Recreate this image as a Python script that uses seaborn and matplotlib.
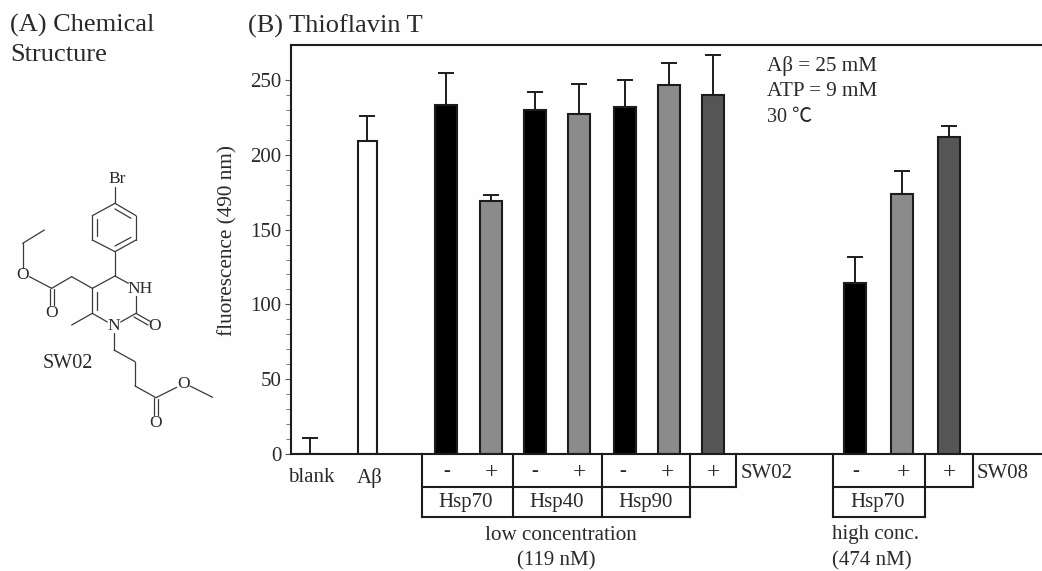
import matplotlib
matplotlib.use("Agg")
import matplotlib.pyplot as plt
import seaborn as sns
import pandas as pd

# ---- data ----
bar_names = ["blank", "Abeta", "Hsp70-", "Hsp70+", "Hsp40-", "Hsp40+", "Hsp90-", "Hsp90+", "SW02+",
             "hi70-", "hi70+", "SW08+"]
bar_pos = [310, 367, 446, 491, 535, 579, 624.5, 668.5, 713, 855, 902, 949]
bar_values = [0, 209.5, 233, 169, 230, 227, 232, 246.5, 240, 114, 174, 212]
bar_tops = [10.5, 226, 255, 173, 242, 247.5, 250, 261.5, 266.5, 132, 189, 219]
bar_kind = ["none", "open", "minus", "plus", "minus", "plus", "minus", "plus", "sw",
            "minus", "plus", "sw"]
kind_colors = {"none": "#ffffff", "open": "#ffffff", "minus": "#000000", "plus": "#8b8b8b", "sw": "#555555"}
yticks_major = [0, 50, 100, 150, 200, 250]
yticks_minor = [10, 20, 30, 40, 60, 70, 80, 90, 110, 120, 130, 140, 160, 170, 180, 190, 210, 220, 230, 240]

W, H = 1042, 571
SERIF = ["Liberation Serif", "Noto Sans CJK SC", "DejaVu Sans"]
INK = "#2a2a2a"
LINE = "#1c1c1c"

sns.set_theme(style="ticks")
plt.rcParams["font.family"] = SERIF

fig = plt.figure(figsize=(W / 100, H / 100), dpi=100, facecolor="#fefefe")
L, R, T, B = 290.5, 1042, 44.5, 454
ax = fig.add_axes([L / W, 1 - B / H, (R - L) / W, (B - T) / H], facecolor="#fefefe")

df = pd.DataFrame({"name": bar_names, "pos": bar_pos, "value": bar_values, "kind": bar_kind})
sns.barplot(data=df, x="pos", y="value", hue="kind", palette=kind_colors, native_scale=True,
            dodge=False, width=0.5, errorbar=None, legend=False, edgecolor=LINE, linewidth=1.5, ax=ax)
ax.errorbar(bar_pos, bar_values,
            yerr=[[0] * len(bar_values), [t - v for t, v in zip(bar_tops, bar_values)]],
            fmt="none", ecolor=LINE, elinewidth=1.4, capsize=5.6, capthick=1.4, zorder=1)

# the open bar is a little narrower than the others
for p in ax.patches:
    if p.get_height() > 200 and abs(p.get_x() + p.get_width() / 2 - bar_pos[1]) < 1:
        p.set_x(p.get_x() + 1.5)
        p.set_width(p.get_width() - 3)

ax.set_xlim(L, R)
ax.set_ylim(0, (B - T) / 1.496)
ax.set_xticks([])
ax.set_xlabel("")
ax.set_ylabel("")
ax.set_yticks(yticks_major)
ax.set_yticks(yticks_minor, minor=True)
ax.tick_params(axis="y", which="major", length=4.5, width=0.8, color="#555555", labelsize=15,
               labelcolor=INK, pad=2)
ax.tick_params(axis="y", which="minor", length=3.5, width=0.7, color="#777777")
for s in ("left", "top", "bottom"):
    ax.spines[s].set_linewidth(1.5)
    ax.spines[s].set_color(LINE)
ax.spines["right"].set_visible(False)

# ---- overlay in picture pixels: table, labels, structure ----
ov = fig.add_axes([0, 0, 1, 1], facecolor="none")
ov.set_xlim(0, W)
ov.set_ylim(H, 0)
ov.axis("off")


def tx(x, y, s, size=15, ha="center", **kw):
    ov.text(x, y, s, fontsize=size, ha=ha, va="center", color=INK, family=SERIF, **kw)


tx(10, 25, "(A) Chemical", 19, ha="left")
tx(10, 55, "Structure", 19, ha="left")
tx(248, 26, "(B) Thioflavin T", 19, ha="left")
tx(228, 241, "fluorescence (490 nm)", 15.3, rotation=90)

tx(767, 66, "Aβ = 25 mM", 15.2, ha="left")
tx(767, 92, "ATP = 9 mM", 15.2, ha="left")
tx(767, 117, "30 ℃", 14.5, ha="left")

tx(311, 477, "blank")
tx(370, 478, "Aβ")
minus_x = [447, 535, 623, 856]
plus_x = [491, 579, 667, 713, 903, 950]
for x in minus_x:
    tx(x, 472, "-")
for x in plus_x:
    tx(x, 473, "+", 17)
tx(466, 502, "Hsp70")
tx(557, 502, "Hsp40")
tx(646, 502, "Hsp90")
tx(878, 502, "Hsp70")
tx(741, 474, "SW02", ha="left")
tx(977, 474, "SW08", ha="left")
tx(561, 535, "low concentration", 15.2)
tx(556, 561, "(119 nM)")
tx(832, 535, "high conc.", ha="left")
tx(832, 561, "(474 nM)", ha="left")

table_rules = [
    ((422, 422), (454, 517)), ((513, 513), (454, 517)), ((602, 602), (454, 517)), ((690, 690), (454, 517)),
    ((736, 736), (454, 487)), ((422, 736), (487, 487)), ((422, 690), (517, 517)),
    ((832.5, 832.5), (454, 517)), ((925, 925), (454, 517)), ((972.5, 972.5), (454, 487)),
    ((832.5, 972.5), (487, 487)), ((832.5, 925), (517, 517)),
]
for xs, ys in table_rules:
    ov.plot(xs, ys, color=LINE, lw=1.5, solid_capstyle="projecting")

# bonds of SW02, in units of a 3x crop whose corner is at (0, 150)
bonds = [
    (345, 110, 345, 160), (345, 160, 408, 197), (408, 197, 408, 270), (408, 270, 345, 305),
    (345, 305, 277, 270), (277, 270, 277, 197), (277, 197, 345, 160),
    (345, 177, 393, 205), (345, 288, 393, 262), (291, 208, 291, 258),
    (345, 305, 345, 378), (345, 378, 385, 400), (408, 438, 408, 490), (408, 490, 362, 516),
    (408, 490, 450, 514), (402, 501, 444, 525), (322, 516, 277, 490), (277, 490, 277, 415),
    (290, 425, 290, 480), (277, 415, 345, 378), (277, 490, 215, 525),
    (342, 548, 342, 600), (342, 600, 405, 635), (405, 635, 405, 708), (405, 708, 468, 743),
    (462, 743, 462, 795), (475, 747, 475, 795), (468, 743, 530, 712), (570, 708, 638, 742),
    (277, 415, 215, 380), (215, 380, 155, 415), (149, 418, 149, 465), (162, 418, 162, 465),
    (155, 415, 88, 380), (68, 355, 68, 280), (68, 280, 133, 240),
]
for x0, y0, x1, y1 in bonds:
    ov.plot([x0 / 3, x1 / 3], [150 + y0 / 3, 150 + y1 / 3], color="#3a3a3a", lw=0.9)

atoms = [(350, 88, "Br"), (420, 418, "NH"), (465, 527, "O"), (342, 527, "N"), (468, 818, "O"),
         (550, 702, "O"), (155, 490, "O"), (68, 375, "O")]
for x, y, s in atoms:
    tx(x / 3, 150 + y / 3, s, 12.5)
tx(203 / 3, 150 + 640 / 3, "SW02", 14.5)

fig.savefig("out.png", dpi=100, facecolor=fig.get_facecolor())
